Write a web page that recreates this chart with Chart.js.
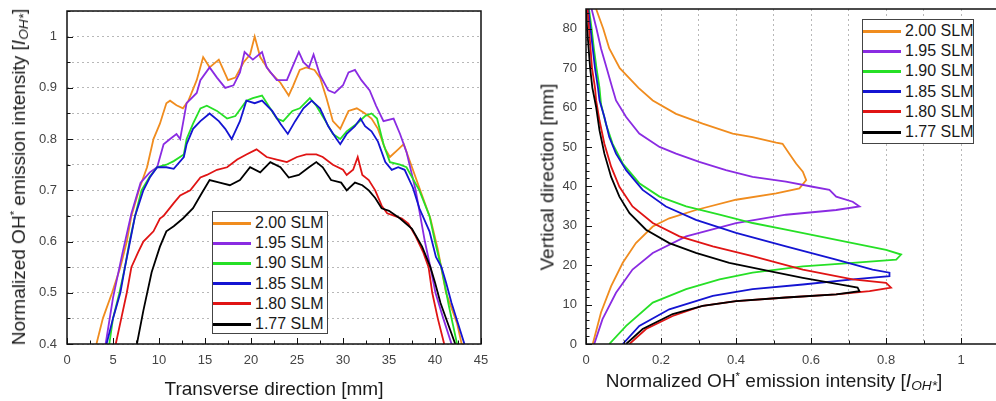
<!DOCTYPE html>
<html>
<head>
<meta charset="utf-8">
<script src="https://cdn.jsdelivr.net/npm/chart.js@4"></script>
<style>
  body { margin: 0; background: #fff; font-family: "Liberation Sans", Arial, sans-serif; }
  #wrap { position: relative; width: 996px; height: 401px; overflow: hidden; }
  canvas { position: absolute; top: 0; }
  #left { left: 0; }
  #right { left: 500px; }
  .ttl { position: absolute; white-space: nowrap; font-size: 19px; color: #1a1a1a; transform: translate(-50%, -50%); line-height: 1; }
  .ttl.rot { transform: translate(-50%, -50%) rotate(-90deg); }
  .ttl sub { font-size: 0.72em; vertical-align: -0.25em; }
  .ttl sup { font-size: 0.6em; vertical-align: 0.6em; }
  .legend { position: absolute; border: 1px solid #444; background: #fff; font-size: 16px; color: #1a1a1a; box-sizing: border-box; padding-top: 1px; white-space: nowrap; }
  .legend .row { height: 20.2px; display: flex; align-items: center; }
  .legend .sw { width: 38px; height: 3px; margin-right: 4px; flex: none; }
</style>
</head>
<body>
<div id="wrap">
  <canvas id="left" width="500" height="401"></canvas>
  <canvas id="right" width="496" height="401"></canvas>

  <div class="ttl rot" style="left:20px; top:177px;">Normalized OH<sup>*</sup> emission intensity [<i>I</i><sub><i>OH*</i></sub>]</div>
  <div class="ttl" style="left:274px; top:388px;">Transverse direction [mm]</div>
  <div class="ttl rot" style="left:547px; top:177px;">Vertical direction [mm]</div>
  <div class="ttl" style="left:774px; top:382px;">Normalized OH<sup>*</sup> emission intensity [<i>I</i><sub><i>OH*</i></sub>]</div>

  <div class="legend" id="legLeft" style="left:212px; top:211px; width:116px; height:123px;"></div>
  <div class="legend" id="legRight" style="left:862px; top:19px; width:112px; height:125px;"></div>
</div>

<script>
var seriesLabels = ['2.00 SLM', '1.95 SLM', '1.90 SLM', '1.85 SLM', '1.80 SLM', '1.77 SLM'];
var seriesColors = ['#f08c1e', '#8a2be2', '#26e026', '#1414d2', '#e01414', '#000000'];

// tick positions (labels only on the major ones)
var leftXTicks = [0, 2.5, 5, 7.5, 10, 12.5, 15, 17.5, 20, 22.5, 25, 27.5, 30, 32.5, 35, 37.5, 40, 42.5, 45];
var leftYTicks = [0.4, 0.45, 0.5, 0.55, 0.6, 0.65, 0.7, 0.75, 0.8, 0.85, 0.9, 0.95, 1.0, 1.05];
var rightXTicks = [0, 0.1, 0.2, 0.3, 0.4, 0.5, 0.6, 0.7, 0.8, 0.9, 1.0];
var rightYTicks = [0, 2, 4, 6, 8, 10, 12, 14, 16, 18, 20, 22, 24, 26, 28, 30, 32, 34, 36, 38, 40, 42, 44, 46, 48, 50, 52, 54, 56, 58, 60, 62, 64, 66, 68, 70, 72, 74, 76, 78, 80, 82, 84];

// left panel: intensity along the transverse direction [mm]
var trX_200 = [3.2, 3.9, 4.9, 5.8, 6.5, 7.0, 7.9, 8.7, 9.4, 10.1, 10.8, 11.2, 11.9, 12.6, 13.2, 14.1, 14.8, 15.5, 16.5, 17.5, 18.3, 19.2, 19.9, 20.4, 21.0, 22.1, 23.2, 24.1, 24.6, 25.3, 26.0, 26.9, 27.5, 28.2, 28.9, 29.7, 30.6, 31.5, 32.4, 33.1, 33.8, 34.6, 35.1, 36.0, 36.6, 37.5, 38.6, 39.5, 40.3, 41.2, 42.4, 42.9];
var trI_200 = [0.40, 0.45, 0.50, 0.55, 0.60, 0.65, 0.705, 0.745, 0.80, 0.83, 0.87, 0.875, 0.866, 0.86, 0.875, 0.915, 0.96, 0.94, 0.955, 0.915, 0.92, 0.95, 0.965, 1.0, 0.96, 0.93, 0.91, 0.885, 0.905, 0.935, 0.94, 0.935, 0.92, 0.88, 0.835, 0.82, 0.855, 0.86, 0.85, 0.84, 0.82, 0.78, 0.765, 0.78, 0.79, 0.745, 0.69, 0.645, 0.585, 0.50, 0.44, 0.40];

var trX_195 = [4.2, 5.0, 6.0, 7.0, 8.0, 9.0, 9.8, 10.5, 11.2, 11.9, 12.3, 13.0, 14.1, 14.5, 15.5, 16.3, 17.2, 18.1, 18.8, 19.3, 19.9, 20.2, 21.2, 21.7, 22.8, 23.9, 24.6, 25.2, 25.7, 26.3, 26.8, 27.5, 28.4, 29.1, 30.0, 30.6, 31.3, 32.0, 32.9, 33.6, 34.4, 35.5, 36.2, 36.9, 37.9, 38.4, 38.9, 39.5, 40.05, 40.9, 41.8];
var trI_195 = [0.40, 0.49, 0.575, 0.655, 0.715, 0.735, 0.745, 0.79, 0.80, 0.81, 0.80, 0.87, 0.89, 0.915, 0.94, 0.92, 0.90, 0.905, 0.93, 0.97, 0.96, 0.955, 0.97, 0.94, 0.915, 0.915, 0.945, 0.97, 0.95, 0.94, 0.965, 0.925, 0.895, 0.89, 0.905, 0.93, 0.935, 0.915, 0.895, 0.865, 0.835, 0.84, 0.81, 0.775, 0.70, 0.65, 0.60, 0.55, 0.50, 0.45, 0.40];

var trX_190 = [4.6, 5.0, 5.7, 6.3, 6.8, 7.4, 8.1, 9.0, 9.8, 10.8, 11.6, 12.7, 13.0, 13.7, 14.5, 15.2, 16.3, 17.4, 18.3, 19.5, 20.2, 21.2, 21.9, 22.8, 23.5, 24.5, 25.3, 26.4, 27.1, 28.1, 28.9, 29.7, 30.4, 31.5, 32.4, 33.1, 33.7, 34.4, 35.1, 36.2, 36.9, 38.3, 39.4, 40.0, 40.8, 41.5, 42.4];
var trI_190 = [0.40, 0.45, 0.50, 0.55, 0.60, 0.65, 0.70, 0.727, 0.745, 0.75, 0.757, 0.77, 0.80, 0.83, 0.86, 0.865, 0.855, 0.84, 0.845, 0.875, 0.88, 0.885, 0.865, 0.84, 0.835, 0.855, 0.86, 0.88, 0.865, 0.835, 0.81, 0.80, 0.815, 0.83, 0.845, 0.85, 0.84, 0.79, 0.755, 0.75, 0.745, 0.70, 0.65, 0.60, 0.54, 0.475, 0.40];

var trX_185 = [4.3, 5.0, 5.8, 6.3, 6.85, 7.4, 8.3, 9.0, 9.8, 10.8, 11.6, 12.7, 13.0, 13.7, 14.5, 15.5, 16.5, 17.2, 17.9, 18.8, 19.5, 20.4, 21.2, 22.3, 23.2, 24.0, 24.8, 25.7, 26.6, 27.5, 28.4, 29.3, 29.7, 30.4, 31.3, 31.9, 32.4, 33.1, 33.8, 34.6, 35.3, 36.0, 36.7, 37.6, 38.3, 39.4, 40.1, 40.7, 41.2, 41.8, 42.5, 43.2];
var trI_185 = [0.40, 0.45, 0.50, 0.55, 0.60, 0.65, 0.70, 0.725, 0.745, 0.745, 0.742, 0.765, 0.79, 0.82, 0.835, 0.85, 0.835, 0.82, 0.80, 0.835, 0.875, 0.87, 0.875, 0.855, 0.83, 0.81, 0.835, 0.86, 0.875, 0.86, 0.825, 0.80, 0.79, 0.81, 0.825, 0.84, 0.825, 0.815, 0.795, 0.755, 0.74, 0.745, 0.74, 0.705, 0.665, 0.62, 0.57, 0.55, 0.52, 0.48, 0.44, 0.40];

var trX_180 = [5.3, 5.9, 6.5, 7.0, 7.75, 8.3, 9.4, 10.1, 10.5, 11.6, 12.3, 13.4, 14.5, 15.2, 16.3, 17.4, 18.5, 19.5, 20.6, 21.7, 22.8, 23.9, 25.0, 26.0, 27.1, 27.8, 28.9, 30.0, 30.4, 31.1, 31.6, 32.1, 32.8, 33.5, 34.2, 34.8, 35.6, 36.4, 37.1, 37.9, 38.7, 39.3, 39.7, 40.3, 41.0];
var trI_180 = [0.40, 0.45, 0.50, 0.55, 0.58, 0.60, 0.62, 0.645, 0.65, 0.675, 0.69, 0.70, 0.725, 0.73, 0.74, 0.745, 0.76, 0.77, 0.78, 0.765, 0.76, 0.755, 0.765, 0.77, 0.77, 0.765, 0.75, 0.74, 0.73, 0.74, 0.765, 0.73, 0.72, 0.70, 0.67, 0.655, 0.65, 0.645, 0.635, 0.61, 0.58, 0.55, 0.50, 0.45, 0.40];

var trX_177 = [7.6, 8.3, 9.2, 10.1, 10.8, 11.6, 12.6, 13.7, 14.5, 15.5, 16.6, 17.7, 18.8, 19.9, 21.0, 22.1, 23.2, 24.1, 25.2, 26.3, 27.1, 27.8, 28.7, 29.8, 30.4, 31.3, 32.1, 32.8, 33.5, 34.2, 35.0, 36.2, 37.5, 38.6, 39.5, 40.0, 40.6, 41.3, 42.2];
var trI_177 = [0.40, 0.465, 0.54, 0.59, 0.62, 0.63, 0.645, 0.665, 0.69, 0.72, 0.715, 0.71, 0.72, 0.745, 0.735, 0.755, 0.745, 0.725, 0.73, 0.745, 0.755, 0.745, 0.72, 0.715, 0.70, 0.715, 0.71, 0.70, 0.685, 0.665, 0.66, 0.645, 0.625, 0.59, 0.55, 0.52, 0.48, 0.445, 0.40];

// right panel: intensity vs vertical position [mm]
var vtY_200 = [0, 8, 14.7, 20.6, 25.6, 29.8, 31.9, 34, 36.6, 38.2, 39.5, 41.6, 43.7, 45.8, 48.3, 50.8, 51.1, 52.5, 53.4, 55.9, 58.4, 61.8, 65, 70, 75, 80, 85];
var vtI_200 = [0.018, 0.04, 0.067, 0.098, 0.133, 0.178, 0.222, 0.293, 0.40, 0.507, 0.569, 0.587, 0.578, 0.56, 0.542, 0.524, 0.507, 0.444, 0.391, 0.311, 0.24, 0.178, 0.14, 0.09, 0.062, 0.046, 0.027];

var vtY_195 = [0, 6.3, 13, 18.9, 23.1, 27.3, 30.7, 32.8, 34, 34.9, 36.1, 37.4, 39.1, 39.9, 41.2, 42.4, 44.1, 46.2, 48.3, 50, 53.4, 57.6, 61.8, 65, 70, 75, 80, 85];
var vtI_195 = [0.022, 0.044, 0.08, 0.124, 0.178, 0.267, 0.40, 0.533, 0.667, 0.729, 0.711, 0.667, 0.649, 0.604, 0.533, 0.444, 0.373, 0.302, 0.24, 0.196, 0.142, 0.107, 0.08, 0.07, 0.055, 0.04, 0.028, 0.015];

var vtY_190 = [0, 4.6, 10.5, 13.9, 16.4, 18.1, 19.7, 20.6, 21.4, 22.7, 23.9, 25.6, 27.3, 29, 30.7, 32.8, 34.9, 37.4, 40.8, 45.8, 50.8, 55.9, 60.9, 65, 70, 75, 80, 85];
var vtI_190 = [0.062, 0.107, 0.178, 0.267, 0.356, 0.444, 0.578, 0.711, 0.827, 0.84, 0.80, 0.711, 0.622, 0.533, 0.444, 0.356, 0.267, 0.196, 0.142, 0.098, 0.071, 0.053, 0.04, 0.036, 0.028, 0.021, 0.015, 0.008];

var vtY_185 = [0, 4.6, 8.8, 12.2, 13.9, 15.1, 16.4, 17.2, 18.1, 18.9, 21.4, 24.8, 28.2, 31.5, 34.9, 39.1, 44.1, 48.3, 52.5, 57.6, 61.8, 65, 70, 75, 80, 85];
var vtI_185 = [0.098, 0.142, 0.222, 0.338, 0.444, 0.578, 0.711, 0.809, 0.809, 0.764, 0.667, 0.533, 0.40, 0.293, 0.213, 0.151, 0.107, 0.08, 0.062, 0.049, 0.036, 0.032, 0.024, 0.018, 0.012, 0.006];

var vtY_180 = [0, 3.8, 7.1, 9.7, 10.9, 11.8, 12.6, 13.4, 14.3, 15.5, 16.4, 18.9, 22.3, 24.8, 27.3, 30.7, 34.9, 39.9, 45, 50.8, 56.7, 61.8, 65, 70, 75, 80, 85];
var vtI_180 = [0.116, 0.16, 0.231, 0.311, 0.40, 0.533, 0.667, 0.756, 0.813, 0.80, 0.711, 0.578, 0.444, 0.338, 0.249, 0.178, 0.124, 0.089, 0.067, 0.049, 0.036, 0.027, 0.024, 0.016, 0.012, 0.008, 0.004];

var vtY_177 = [0, 3.8, 7.6, 9.7, 10.9, 11.8, 12.6, 13.4, 14.3, 15.1, 16.8, 18.5, 20.6, 23.1, 25.6, 29, 33.2, 37.4, 42.4, 48.3, 54.2, 60.1, 65, 70, 75, 80, 85];
var vtI_177 = [0.107, 0.151, 0.231, 0.311, 0.40, 0.533, 0.667, 0.729, 0.724, 0.676, 0.578, 0.489, 0.382, 0.293, 0.222, 0.16, 0.116, 0.089, 0.067, 0.049, 0.036, 0.027, 0.017, 0.011, 0.007, 0.003, 0.0];

var leftSeries = [[trX_200, trI_200], [trX_195, trI_195], [trX_190, trI_190], [trX_185, trI_185], [trX_180, trI_180], [trX_177, trI_177]];
var rightSeries = [[vtI_200, vtY_200], [vtI_195, vtY_195], [vtI_190, vtY_190], [vtI_185, vtY_185], [vtI_180, vtY_180], [vtI_177, vtY_177]];

function toPoints(xs, ys) {
    return xs.map(function (x, i) { return {x: x, y: ys[i]}; });
}

function makeDatasets(list) {
    return list.map(function (pair, i) {
        return {
            label: seriesLabels[i],
            data: toPoints(pair[0], pair[1]),
            borderColor: seriesColors[i],
            borderWidth: 1.8,
            pointRadius: 0,
            tension: 0,
            fill: false,
            order: seriesLabels.length - i   // black ends up on top
        };
    });
}

function isMult(v, step) {
    var r = v / step;
    return Math.abs(r - Math.round(r)) < 1e-6;
}

function useTicks(list) {
    return function (s) { s.ticks = list.map(function (v) { return {value: v}; }); };
}

// no extra room for tick label overflow, plot box is fixed by layout padding
function fixW(w) { return function (s) { s.width = w; s.paddingTop = 0; s.paddingBottom = 0; }; }
function fixH(h) { return function (s) { s.height = h; s.paddingLeft = 0; s.paddingRight = 0; }; }

// box frame + inward tick marks
function frameTicks(o) {
    return {
        id: 'frameTicks',
        afterDraw: function (chart) {
            var ctx = chart.ctx, a = chart.chartArea;
            var sx = chart.scales.x, sy = chart.scales.y;
            ctx.save();
            ctx.strokeStyle = '#111';
            ctx.lineWidth = 1;
            ctx.beginPath();
            sx.ticks.forEach(function (t) {
                var p = Math.round(sx.getPixelForValue(t.value)) + 0.5;
                var len = isMult(t.value, o.xMajor) ? 6 : 3.5;
                ctx.moveTo(p, a.bottom);
                ctx.lineTo(p, a.bottom - len);
            });
            sy.ticks.forEach(function (t) {
                var p = Math.round(sy.getPixelForValue(t.value)) + 0.5;
                var len = isMult(t.value, o.yMajor) ? 6 : 3.5;
                ctx.moveTo(a.left, p);
                ctx.lineTo(a.left + len, p);
            });
            ctx.stroke();
            ctx.lineWidth = 1.5;
            ctx.beginPath();
            if (o.closed) {
                ctx.rect(a.left, a.top, a.right - a.left, a.bottom - a.top);
            } else {
                ctx.moveTo(a.right, a.top);
                ctx.lineTo(a.left, a.top);
                ctx.lineTo(a.left, a.bottom);
                ctx.lineTo(a.right, a.bottom);
            }
            ctx.stroke();
            ctx.restore();
        }
    };
}

var tickFont = {family: '"Liberation Sans", Arial, sans-serif', size: 13};
var tickColor = '#444';

new Chart(document.getElementById('left'), {
    type: 'line',
    data: {datasets: makeDatasets(leftSeries)},
    options: {
        responsive: false,
        animation: false,
        layout: {padding: {top: 11, right: 19, left: 0, bottom: 0}},
        plugins: {legend: {display: false}, tooltip: {enabled: false}},
        scales: {
            x: {
                type: 'linear', min: 0, max: 45,
                afterBuildTicks: useTicks(leftXTicks),
                afterFit: fixH(57),
                grid: {display: false, drawTicks: false},
                border: {display: false},
                ticks: {
                    autoSkip: false, maxRotation: 0, padding: 9,
                    font: tickFont, color: tickColor,
                    callback: function (v) { return isMult(v, 5) ? String(v) : ''; }
                }
            },
            y: {
                type: 'linear', min: 0.4, max: 1.05,
                afterBuildTicks: useTicks(leftYTicks),
                afterFit: fixW(67),
                grid: {color: '#b8b8b8', lineWidth: 1, drawTicks: false},
                border: {display: false, dash: [2, 3]},
                ticks: {
                    autoSkip: false, padding: 10,
                    font: tickFont, color: tickColor,
                    callback: function (v) {
                        return (isMult(v, 0.1) && v < 1.01) ? String(Number(v.toFixed(2))) : '';
                    }
                }
            }
        }
    },
    plugins: [frameTicks({xMajor: 5, yMajor: 0.1, closed: true})]
});

new Chart(document.getElementById('right'), {
    type: 'line',
    data: {datasets: makeDatasets(rightSeries)},
    options: {
        responsive: false,
        animation: false,
        layout: {padding: {top: 9, right: 0, left: 0, bottom: 0}},
        plugins: {legend: {display: false}, tooltip: {enabled: false}},
        scales: {
            x: {
                type: 'linear', min: 0, max: 1.093,
                afterBuildTicks: useTicks(rightXTicks),
                afterFit: fixH(57),
                grid: {color: '#b8b8b8', lineWidth: 1, drawTicks: false},
                border: {display: false, dash: [2, 3]},
                ticks: {
                    autoSkip: false, maxRotation: 0, padding: 9,
                    font: tickFont, color: tickColor,
                    callback: function (v) { return isMult(v, 0.2) ? String(Number(v.toFixed(2))) : ''; }
                }
            },
            y: {
                type: 'linear', min: 0, max: 85,
                afterBuildTicks: useTicks(rightYTicks),
                afterFit: fixW(86),
                grid: {display: false, drawTicks: false},
                border: {display: false},
                ticks: {
                    autoSkip: false, padding: 9,
                    font: tickFont, color: tickColor,
                    callback: function (v) { return isMult(v, 10) ? String(v) : ''; }
                }
            }
        }
    },
    plugins: [frameTicks({xMajor: 0.2, yMajor: 10, closed: false})]
});

// legends built from the same label / colour arrays
['legLeft', 'legRight'].forEach(function (id) {
    var box = document.getElementById(id);
    seriesLabels.forEach(function (lab, i) {
        var row = document.createElement('div');
        row.className = 'row';
        var sw = document.createElement('span');
        sw.className = 'sw';
        sw.style.background = seriesColors[i];
        var tx = document.createElement('span');
        tx.textContent = lab;
        row.appendChild(sw);
        row.appendChild(tx);
        box.appendChild(row);
    });
});
</script>
</body>
</html>
